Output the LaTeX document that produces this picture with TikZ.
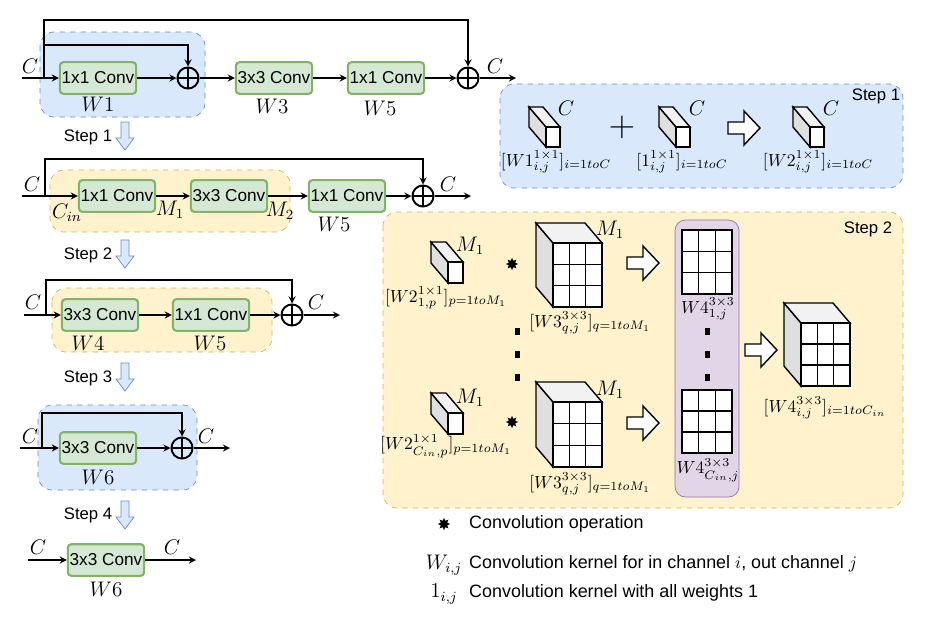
\documentclass[tikz,border=0pt]{standalone}
\usepackage{fontspec}
\setmainfont{Liberation Sans}
\usetikzlibrary{positioning,shapes.geometric}
\definecolor{convfill}{HTML}{D5E8D4}
\definecolor{convline}{HTML}{82B366}
\definecolor{bluefill}{HTML}{DAE8FC}
\definecolor{blueline}{HTML}{6C8EBF}
\definecolor{yelfill}{HTML}{FFF2CC}
\definecolor{yelline}{HTML}{D6B656}
\definecolor{purfill}{HTML}{E1D5E7}
\definecolor{purline}{HTML}{9673A6}
\tikzset{
  conv/.style={draw=convline, fill=convfill, line width=1.2pt, rounded corners=2pt,
    minimum width=43pt, minimum height=18pt, inner sep=1pt, font=\fontsize{9.8}{11}\selectfont},
  plus/.style={circle, draw, line width=1.1pt, minimum size=12pt, inner sep=0pt,
    path picture={\draw[line width=1.1pt] (path picture bounding box.north) -- (path picture bounding box.south)
      (path picture bounding box.west) -- (path picture bounding box.east);}},
  arr/.style={->, >=stealth, thick},
  bluebox/.style={draw=blueline, fill=bluefill, dashed, rounded corners=8pt},
  yelbox/.style={draw=yelline, fill=yelfill, dashed, rounded corners=8pt},
  purbox/.style={draw=purline, fill=purfill, rounded corners=6pt},
  conv op/.style={star, star points=8, star point ratio=1.8, fill=black, inner sep=0pt, minimum size=7pt},
  lbl/.style={font=\fontsize{11.5}{13}\selectfont},
  klbl/.style={font=\fontsize{10.2}{12}\selectfont, inner sep=1pt},
  steplbl/.style={font=\fontsize{9.5}{11}\selectfont},
  leglbl/.style={font=\fontsize{10.2}{12}\selectfont, anchor=west}
}
% cube: front top-left corner, width, height
\newcommand{\kcube}[4]{%
  \filldraw[thick, fill=gray!25] (#1,#2) -- ++(-17,-20) -- ++(0,#4) -- ++(17,20) -- cycle;
  \filldraw[thick, fill=gray!10] (#1,#2) -- ++(-17,-20) -- ++(#3,0) -- ++(17,20) -- cycle;
  \filldraw[thick, fill=white] (#1,#2) rectangle ++(#3,#4);}
% 3x3 grid
\newcommand{\kgrid}[4]{%
  \filldraw[thick, fill=white] (#1,#2) rectangle ++(#3,#4);
  \foreach \k in {1,2} {
    \draw[thick] ({#1+\k*#3/3},#2) -- ++(0,#4);
    \draw[thick] (#1,{#2+\k*#4/3}) -- ++(#3,0);
  }}
% hollow arrow pointing right, centre
\newcommand{\harrow}[2]{%
  \filldraw[thick, fill=white, shift={(#1,#2)}] (-16,-6) -- (0,-6) -- (0,-17) -- (16,0) -- (0,17) -- (0,6) -- (-16,6) -- cycle;}
% step arrow pointing down, centre
\newcommand{\sarrow}[2]{%
  \filldraw[draw=blueline, fill=bluefill, shift={(#1,#2)}] (-4,-14) -- (4,-14) -- (4,2) -- (9,2) -- (0,14) -- (-9,2) -- (-4,2) -- cycle;}
\begin{document}
\begin{tikzpicture}[x=0.02cm, y=-0.02cm]
\useasboundingbox (0,0) rectangle (936,626);

% backgrounds
\draw[bluebox] (40,32) rectangle (205,117);
\draw[yelbox] (50,170) rectangle (290,232);
\draw[yelbox] (52,288) rectangle (272,352);
\draw[bluebox] (38,405) rectangle (197,490);
\draw[bluebox] (500,84) rectangle (903,188);
\draw[yelbox] (383,212) rectangle (903,508);
\draw[purbox] (675,220) rectangle (739,497);

% row 1
\coordinate (in1) at (22,78);
\coordinate (s1) at (44,78);
\node[conv] (c11) at (98,78) {1x1 Conv};
\node[plus] (p11) at (188,78) {};
\node[conv] (c12) at (274,78) {3x3 Conv};
\node[conv] (c13) at (386,78) {1x1 Conv};
\node[plus] (p12) at (468,78) {};
\coordinate (out1) at (516,78);
\draw[arr] (in1) -- (c11);
\draw[arr] (c11) -- (p11);
\draw[arr] (p11) -- (c12);
\draw[arr] (c12) -- (c13);
\draw[arr] (c13) -- (p12);
\draw[arr] (p12) -- (out1);
\draw[arr] (s1) |- (120,45) -| (p11.north);
\draw[arr] (s1) |- (300,20) -| (p12.north);
\node[lbl] at (30,66) {$C$};
\node[lbl] at (495,66) {$C$};
\node[lbl] at (98,104) {$W1$};
\node[lbl] at (272,106) {$W3$};
\node[lbl] at (380,108) {$W5$};

\node[steplbl] at (88,137) {Step 1};
\sarrow{125}{136}

% row 2
\coordinate (in2) at (22,196);
\coordinate (s2) at (45,196);
\node[conv] (c21) at (117,196) {1x1 Conv};
\node[conv] (c22) at (229,196) {3x3 Conv};
\node[conv] (c23) at (347,196) {1x1 Conv};
\node[plus] (p21) at (423,196) {};
\coordinate (out2) at (471,196);
\draw[arr] (in2) -- (c21);
\draw[arr] (c21) -- (c22);
\draw[arr] (c22) -- (c23);
\draw[arr] (c23) -- (p21);
\draw[arr] (p21) -- (out2);
\draw[arr] (s2) |- (200,159) -| (p21.north);
\node[lbl] at (32,184) {$C$};
\node[lbl] at (448,184) {$C$};
\node[lbl] at (67,213) {$C_{in}$};
\node[lbl] at (170,210) {$M_1$};
\node[lbl] at (280,211) {$M_2$};
\node[lbl] at (334,224) {$W5$};

\node[steplbl] at (88,255) {Step 2};
\sarrow{125}{254}

% row 3
\coordinate (in3) at (24,315);
\coordinate (s3) at (46,315);
\node[conv] (c31) at (100,315) {3x3 Conv};
\node[conv] (c32) at (211,315) {1x1 Conv};
\node[plus] (p31) at (292,315) {};
\coordinate (out3) at (340,315);
\draw[arr] (in3) -- (c31);
\draw[arr] (c31) -- (c32);
\draw[arr] (c32) -- (p31);
\draw[arr] (p31) -- (out3);
\draw[arr] (s3) |- (150,280) -| (p31.north);
\node[lbl] at (33,302) {$C$};
\node[lbl] at (316,302) {$C$};
\node[lbl] at (88,343) {$W4$};
\node[lbl] at (210,343) {$W5$};

\node[steplbl] at (88,378) {Step 3};
\sarrow{125}{377}

% row 4
\coordinate (in4) at (20,448);
\coordinate (s4) at (42,448);
\node[conv] (c41) at (98,448) {3x3 Conv};
\node[plus] (p41) at (182,448) {};
\coordinate (out4) at (230,448);
\draw[arr] (in4) -- (c41);
\draw[arr] (c41) -- (p41);
\draw[arr] (p41) -- (out4);
\draw[arr] (s4) |- (120,413) -| (p41.north);
\node[lbl] at (30,436) {$C$};
\node[lbl] at (206,436) {$C$};
\node[lbl] at (98,477) {$W6$};

\node[steplbl] at (88,515) {Step 4};
\sarrow{125}{515}

% row 5
\coordinate (in5) at (28,560);
\node[conv] (c51) at (106,560) {3x3 Conv};
\coordinate (out5) at (196,560);
\draw[arr] (in5) -- (c51);
\draw[arr] (c51) -- (out5);
\node[lbl] at (38,547) {$C$};
\node[lbl] at (172,547) {$C$};
\node[lbl] at (106,589) {$W6$};

% step 1 merge
\kcube{546}{127}{14}{20}
\kcube{676}{127}{14}{20}
\kcube{810}{127}{14}{20}
\node[lbl] at (566,108) {$C$};
\node[lbl] at (697,108) {$C$};
\node[lbl] at (831,108) {$C$};
\node[font=\huge] (plus1) at (622,127) {$+$};
\harrow{744}{128}
\node[klbl] at (556,162) {$[W1^{1\times1}_{i,j}]_{i=1toC}$};
\node[klbl] at (682,162) {$[1^{1\times1}_{i,j}]_{i=1toC}$};
\node[klbl] at (818,162) {$[W2^{1\times1}_{i,j}]_{i=1toC}$};
\node[steplbl] at (876,96) {Step 1};

% step 2 merge
\kcube{448}{262}{15}{21}
\kcube{448}{413}{15}{21}
\kcube{553}{243}{49}{64}
\kcube{553}{402}{49}{65}
\kgrid{553}{243}{49}{64}
\kgrid{553}{402}{49}{65}
\kgrid{682}{230}{50}{64}
\kgrid{682}{390}{50}{63}
\kcube{801}{323}{49}{63}
\kgrid{801}{323}{49}{63}
\node[conv op] (o1) at (512,264) {};
\node[conv op] (o2) at (512,422) {};
\harrow{643}{263}
\harrow{643}{423}
\harrow{761}{350}
\foreach \yy in {331,354,377} {
  \fill (517,\yy) ++(-2.5,-3.5) rectangle ++(5,7);
  \fill (707,\yy) ++(-2.5,-3.5) rectangle ++(5,7);
}
\node[lbl] at (470,246) {$M_1$};
\node[lbl] at (470,398) {$M_1$};
\node[lbl] at (610,230) {$M_1$};
\node[lbl] at (610,390) {$M_1$};
\node[klbl] at (446,298) {$[W2^{1\times1}_{1,p}]_{p=1toM_1}$};
\node[klbl] at (446,446) {$[W2^{1\times1}_{C_{in},p}]_{p=1toM_1}$};
\node[klbl] at (590,323) {$[W3^{3\times3}_{q,j}]_{q=1toM_1}$};
\node[klbl] at (590,484) {$[W3^{3\times3}_{q,j}]_{q=1toM_1}$};
\node[klbl] at (708,309) {$W4^{3\times3}_{1,j}$};
\node[klbl] at (708,470) {$W4^{3\times3}_{C_{in},j}$};
\node[klbl] at (825,408) {$[W4^{3\times3}_{i,j}]_{i=1toC_{in}}$};
\node[steplbl] at (868,229) {Step 2};

% legend
\node[conv op] (lg1) at (444,524) {};
\node[leglbl] at (463,524) {Convolution operation};
\node[lbl] at (444,565) {$W_{i,j}$};
\node[leglbl] at (463,564) {Convolution kernel for in channel $i$, out channel $j$};
\node[lbl] at (444,594) {$1_{i,j}$};
\node[leglbl] at (463,593) {Convolution kernel with all weights 1};
\end{tikzpicture}
\end{document}
